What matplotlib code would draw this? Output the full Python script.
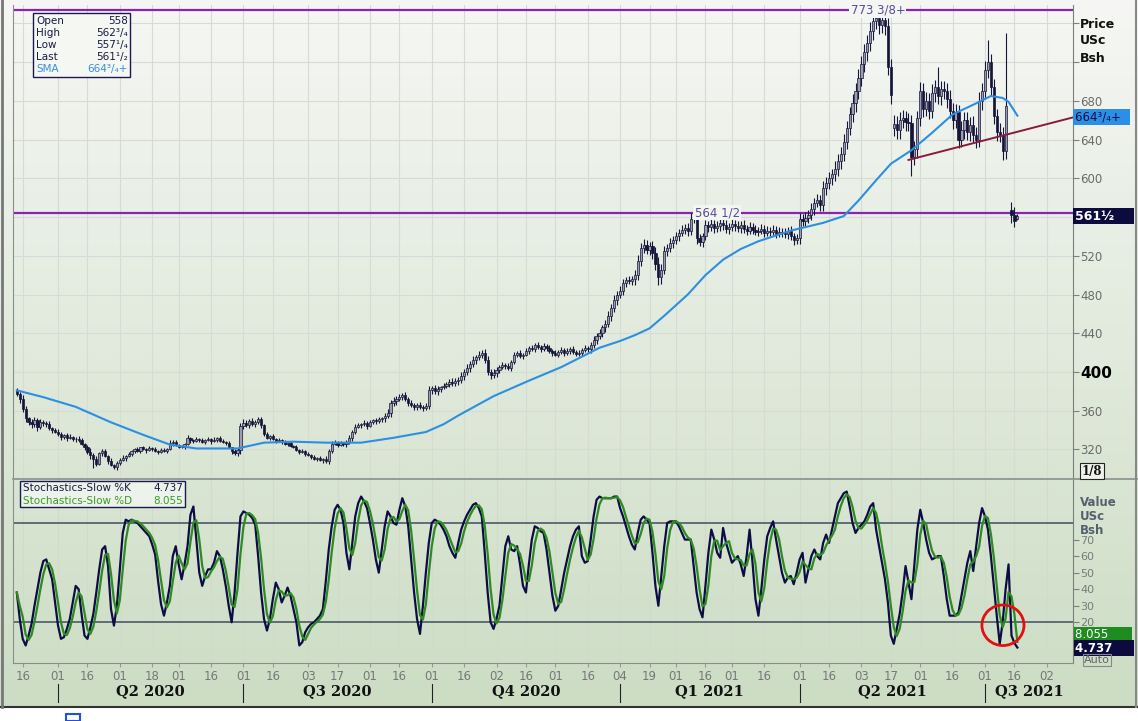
import numpy as np
import pandas as pd
import matplotlib
matplotlib.use('Agg')
import matplotlib.pyplot as plt
import matplotlib.transforms as mtransforms
from matplotlib.patches import Ellipse, Rectangle
from matplotlib.lines import Line2D

# trading calendar (CBOT holidays removed)
holidays = ['2020-04-10', '2020-05-25', '2020-07-03', '2020-09-07', '2020-11-26',
            '2020-12-25', '2021-01-01', '2021-01-18', '2021-02-15', '2021-04-02',
            '2021-05-31', '2021-07-05']
days = pd.bdate_range('2020-03-12', '2021-08-31')
days = days[~days.isin(pd.to_datetime(holidays))]

# daily closes, US cents / bushel (nearby corn)
closes = [
    377, 372, 362, 352, 348, 346, 350, 343, 348, 347,
    346, 342, 340, 338, 336, 333, 335, 332, 333, 331,
    331, 330, 326, 322, 317, 314, 310, 305, 316, 318,
    313, 308, 304, 302, 306, 309, 311, 313, 315, 318,
    320, 318, 322, 320, 319, 321, 320, 318, 317, 319,
    318, 320, 327, 328, 325, 323, 322, 326, 332, 330,
    329, 331, 330, 328, 330, 331, 329, 330, 332, 329,
    328, 327, 322, 318, 316, 319, 344, 347, 345, 349,
    346, 348, 351, 345, 336, 332, 334, 331, 329, 330,
    328, 326, 327, 324, 323, 319, 317, 318, 315, 314,
    312, 310, 311, 309, 310, 308, 318, 326, 328, 325,
    327, 326, 328, 332, 338, 343, 345, 346, 347, 344,
    348, 350, 349, 351, 352, 355, 358, 368, 370, 372,
    374, 376, 372, 368, 366, 364, 366, 364, 363, 365,
    381, 383, 380, 382, 384, 386, 388, 390, 389, 391,
    392, 396, 400, 404, 408, 412, 415, 418, 420, 412,
    400, 397, 399, 402, 405, 407, 406, 404, 410, 418,
    420, 416, 418, 422, 425, 424, 428, 426, 424, 427,
    425, 422, 420, 418, 421, 423, 420, 422, 424, 421,
    419, 420, 423, 425, 424, 428, 433, 437, 440, 446,
    450, 458, 466, 474, 480, 484, 492, 495, 494, 496,
    500, 515, 528, 531, 526, 530, 523, 512, 498, 505,
    525, 528, 533, 536, 540, 544, 547, 549, 546, 558,
    561, 538, 534, 540, 552, 550, 553, 549, 551, 554,
    552, 548, 550, 553, 551, 549, 552, 548, 546, 550,
    547, 545, 546, 548, 544, 546, 545, 547, 543, 545,
    544, 542, 546, 540, 536, 538, 558, 556, 559, 562,
    568, 575, 578, 572, 590, 595, 600, 604, 610, 618,
    625, 638, 652, 666, 678, 690, 704, 718, 730, 740,
    752, 762, 766, 758, 764, 757, 715, 686, 656, 650,
    660, 662, 658, 657, 622, 630, 662, 690, 672, 680,
    670, 688, 694, 685, 692, 690, 682, 670, 660, 668,
    640, 650, 660, 648, 655, 645, 640, 680, 690, 712,
    720, 694, 664, 648, 645, 628, 675, np.nan, 562, 556,
    561.5,
]
# wick lengths above / below the body, cents, one digit per day
wick_up = ("3243234232 2312321231 2321342312 2131223121 1212131212 2132212131 "
           "1212121312 2121223432 3232121212 1212121212 1212132321 2123232132 "
           "2123234343 3232322323 4343232343 3434343434 4343232323 2323232323 "
           "2323232323 2323234343 4545454343 5656545676 5454545456 6454545454 "
           "4545454545 4545454545 4545456565 6565767687 7878989898 9898989898 "
           "8989898989 8989898989 8989898989 9898989898 3")
wick_dn = ("2434343423 3231232312 3213243213 1312321312 2121312121 1213121213 "
           "2121213121 1213234323 2323212121 2121212121 2121323212 1232321323 "
           "1232343434 2323233232 3434323434 4343434343 3434323232 3232323232 "
           "3232323232 3232343434 5454545434 6565456767 4545454565 4645454545 "
           "5454545454 5454545454 5454546565 5656676778 8787898989 8989898989 "
           "9898989898 9898989898 9898989898 8989898989 2")
# opens that do not follow the previous close (first bar, contract rolls)
open_gaps = {0: 380, 298: 652, 338: 567, 340: 558}
wick_highs = {82: 353, 230: 572, 292: 773.4, 313: 715, 330: 743, 336: 750, 340: 562.75}
wick_lows = {26: 301, 218: 490, 304: 602, 335: 619, 339: 550, 340: 557.25}

# simple moving average
sma_idx = [0, 9, 20, 32, 43, 52, 61, 75, 84, 94, 105, 117, 128, 139, 145, 150, 156,
           162, 168, 174, 185, 198, 205, 210, 215, 220, 228, 234, 240, 246, 252,
           263, 274, 281, 286, 292, 297, 304, 311, 318, 325, 331, 335, 337, 340]
sma_vals = [381, 374, 364, 348, 335, 325, 321, 321, 327, 328, 327, 327, 332, 338, 346,
            355, 365, 375, 383, 391, 405, 425, 432, 438, 445, 458, 480, 500, 516,
            527, 535, 546, 554, 561, 577, 598, 615, 629, 647, 666, 676, 685, 683,
            679, 664.75]

levels = [773.375, 564.5]
level_labels = ['773 3/8+', '564 1/2']
level_label_idx = [292.6, 238]
trend_idx = [303, 359]
trend_vals = [619, 663]

# Stochastics-Slow %K
k_vals = [
    38, 22, 10, 6, 12, 19, 30, 40, 50, 57,
    58, 52, 46, 32, 18, 10, 11, 16, 22, 32,
    42, 40, 25, 12, 10, 17, 25, 38, 52, 64,
    66, 54, 28, 18, 30, 52, 74, 82, 81, 82,
    81, 80, 78, 76, 74, 72, 67, 61, 45, 31,
    24, 32, 42, 60, 66, 55, 46, 55, 66, 85,
    90, 70, 50, 42, 48, 52, 52, 56, 63, 60,
    52, 42, 30, 20, 38, 62, 84, 87, 86, 85,
    83, 79, 60, 38, 22, 15, 22, 34, 44, 40,
    32, 36, 41, 36, 28, 20, 6, 8, 14, 17,
    19, 20, 22, 24, 28, 45, 64, 78, 88, 91,
    88, 80, 62, 52, 68, 84, 92, 96, 93, 89,
    80, 70, 58, 50, 64, 78, 87, 84, 80, 79,
    88, 95, 90, 78, 58, 38, 22, 13, 30, 50,
    68, 80, 82, 81, 79, 76, 72, 66, 62, 59,
    68, 76, 81, 85, 88, 91, 92, 89, 84, 62,
    38, 20, 16, 22, 30, 48, 66, 72, 64, 63,
    66, 55, 42, 38, 55, 70, 78, 77, 75, 74,
    64, 50, 36, 27, 30, 40, 50, 58, 66, 72,
    76, 78, 60, 56, 57, 70, 84, 94, 96, 95,
    95, 95, 95, 96, 96, 89, 84, 78, 72, 67,
    64, 74, 82, 84, 82, 80, 62, 42, 30, 48,
    66, 80, 81, 81, 81, 78, 74, 70, 70, 70,
    54, 38, 28, 23, 42, 62, 76, 70, 62, 59,
    77, 68, 62, 56, 58, 60, 55, 48, 60, 76,
    56, 34, 24, 40, 58, 72, 77, 81, 70, 60,
    50, 44, 47, 48, 43, 50, 58, 62, 44, 52,
    60, 64, 60, 58, 68, 73, 68, 76, 84, 92,
    95, 98, 99, 90, 80, 74, 77, 79, 81, 85,
    90, 92, 76, 66, 56, 46, 32, 12, 7, 16,
    25, 38, 54, 44, 34, 55, 76, 88, 80, 70,
    62, 58, 59, 60, 60, 48, 34, 24, 24, 24,
    26, 36, 46, 56, 63, 51, 66, 80, 89, 84,
    76, 60, 42, 24, 7, 20, 40, 55, 12, 7.4,
    4.737,
]

W, H = 1138, 721
fx = lambda px: px / W
fy = lambda py: 1 - py / H

fig = plt.figure(figsize=(W / 100, H / 100), dpi=100)
fig.patch.set_facecolor('white')

# background gradient
bg = fig.add_axes([0, fy(707), 1, 707 / H], zorder=-10)
top = np.array([246, 247, 244]) / 255
bot = np.array([204, 221, 196]) / 255
t = np.linspace(0, 1, 256)[:, None]
grad = top * (1 - t)[:, :, None] + bot * t[:, :, None]
bg.imshow(grad.repeat(2, axis=1), aspect='auto', extent=[0, 1, 0, 1])
bg.axis('off')

L, R = 13, 1073
XMAX = 358.9
ax1 = fig.add_axes([fx(L), fy(478), fx(R) - fx(L), 473 / H])
ax2 = fig.add_axes([fx(L), fy(663), fx(R) - fx(L), 183 / H])
for ax in (ax1, ax2):
    ax.set_facecolor('none')
    ax.set_xlim(-1.3, XMAX)
    for s in ('top', 'bottom'):
        ax.spines[s].set_visible(False)
    ax.spines['left'].set_color('#8a8f8a')
    ax.spines['right'].set_color('#7a7f7a')

# x ticks: first trading day on/after 1st and 16th
tick_pos, tick_lab, q_pos = [], [], []
for m in pd.period_range('2020-03', '2021-08', freq='M'):
    for d in (1, 16):
        target = pd.Timestamp(m.year, m.month, d)
        hit = np.where(days >= target)[0]
        if len(hit) and hit[0] < XMAX - 3:
            tick_pos.append(hit[0])
            tick_lab.append('%02d' % days[hit[0]].day)
            if d == 1 and m.month in (1, 4, 7, 10):
                q_pos.append(hit[0])
tick_pos, tick_lab = tick_pos[1:], tick_lab[1:]

# ---- price panel ----
x = np.arange(len(closes))
c = np.array(closes, dtype=float)
o = np.r_[np.nan, c[:-1]]
for i, v in open_gaps.items():
    o[i] = v
wu = np.array([int(ch) for ch in wick_up.replace(' ', '')], dtype=float)
wd = np.array([int(ch) for ch in wick_dn.replace(' ', '')], dtype=float)
hi = np.fmax(o, c) + wu
lo = np.fmin(o, c) - wd
for i, v in wick_highs.items():
    hi[i] = v
for i, v in wick_lows.items():
    lo[i] = v
ok = ~np.isnan(c) & ~np.isnan(o)
up = ok & (c >= o)
dn = ok & (c < o)
ax1.vlines(x[ok], lo[ok], hi[ok], color='#15153a', lw=0.8, zorder=3)
ax1.bar(x[up], (c - o)[up], bottom=o[up], width=0.75, color='#9c9cae',
        edgecolor='#15153a', lw=0.5, zorder=4)
ax1.bar(x[dn], (c - o)[dn], bottom=o[dn], width=0.75, color='#15153a',
        edgecolor='#15153a', lw=0.5, zorder=4)

ax1.plot(sma_idx, sma_vals, color='#2b8fe3', lw=1.5, zorder=5)
for lv in levels:
    ax1.axhline(lv, color='#8a22b8', lw=1.6, zorder=2)
for lab, xi, lv in zip(level_labels, level_label_idx, levels):
    ax1.text(xi, lv, lab, ha='center', va='center', fontsize=8.5, color='#5a4a9e',
             bbox=dict(boxstyle='square,pad=0.1', fc='#f4f6f1', ec='none'), zorder=6)
ax1.plot(trend_idx, trend_vals, color='#8b1a3e', lw=1.4, zorder=5, clip_on=True)

ax1.set_ylim(290.5, 779)
yt = list(range(320, 761, 40))
ax1.yaxis.tick_right()
ax1.set_yticks(yt, labels=['' if v in (560, 720, 760) else str(v) for v in yt])
ax1.tick_params(axis='y', direction='out', length=4, color='#808080',
                labelcolor='#6a6a6a', labelsize=8.5, pad=1)
for lbl, v in zip(ax1.get_yticklabels(), yt):
    if v == 400:
        lbl.set_fontsize(11)
        lbl.set_fontweight('bold')
        lbl.set_color('black')
ax1.set_xticks(tick_pos)
ax1.tick_params(axis='x', length=0, labelbottom=False)
ax1.grid(True, color='#d6dbd3', lw=0.8, zorder=0)

# ---- stochastics panel ----
k = pd.Series(k_vals)
d = k.rolling(3, min_periods=1).mean()
kx = np.arange(len(k))
ax2.axhline(80, color='#4c5868', lw=1.2, zorder=2)
ax2.axhline(20, color='#4c5868', lw=1.2, zorder=2)
ax2.plot(kx, k, color='#0d0d45', lw=1.6, zorder=3)
ax2.plot(kx, d, color='#2e8b22', lw=1.6, zorder=4)
ax2.add_patch(Ellipse((335.1, 18.2), 14.3, 24.5, fill=False, ec='#e01010', lw=2, zorder=6))
ax2.set_ylim(-4.6, 106)
ax2.yaxis.tick_right()
st = [20, 30, 40, 50, 60, 70]
ax2.set_yticks(st, labels=[str(v) for v in st])
ax2.tick_params(axis='y', direction='out', length=4, color='#808080',
                labelcolor='#7a7a7a', labelsize=8, pad=1)
ax2.set_xticks(tick_pos, labels=tick_lab)
ax2.tick_params(axis='x', direction='out', length=3, color='#999999',
                labelcolor='#777777', labelsize=8.5, pad=2)
ax2.grid(True, axis='x', color='#d2dacd', lw=0.8, zorder=0)
ax2.spines['bottom'].set_visible(True)
ax2.spines['bottom'].set_color('#8a8f8a')

# quarters
qt = mtransforms.blended_transform_factory(ax2.transData, fig.transFigure)
q_names = ['Q2 2020', 'Q3 2020', 'Q4 2020', 'Q1 2021', 'Q2 2021', 'Q3 2021']
edges = q_pos + [XMAX]
for i, qp in enumerate(q_pos):
    ax2.add_line(Line2D([qp, qp], [fy(684), fy(702)], transform=qt, color='#222222',
                        lw=0.8, clip_on=False))
    ax2.text((edges[i] + edges[i + 1]) / 2, fy(691), q_names[i], transform=qt,
             ha='center', va='center', fontsize=10.5, fontweight='bold',
             family='DejaVu Serif', color='#111111')

# frame lines
fig.add_artist(Line2D([fx(L), 1], [fy(478.5), fy(478.5)], color='#8a8f8a', lw=1.2))
fig.add_artist(Line2D([0, 1], [fy(707), fy(707)], color='#333333', lw=1.5))
fig.add_artist(Line2D([fx(1.5), fx(1.5)], [fy(707), 1], color='#777777', lw=2))
fig.add_artist(Line2D([fx(1136), fx(1136)], [fy(707), 1], color='#888888', lw=1.5))
fig.add_artist(Rectangle((fx(66), 0), fx(14), 7 / H, fill=False, ec='#2050e0', lw=1.5))

# right-hand captions
for i, s in enumerate(['Price', 'USc', 'Bsh']):
    fig.text(fx(1080), fy(24 + 17 * i), s, fontsize=9, fontweight='bold',
             va='center', color='#111111')
for i, s in enumerate(['Value', 'USc', 'Bsh']):
    fig.text(fx(1080), fy(503 + 14 * i), s, fontsize=8.5, fontweight='bold',
             va='center', color='#55606e')

fig.text(fx(1075), fy(117), '664³/₄+  ', fontsize=8.5, va='center', color='#101040',
         bbox=dict(boxstyle='square,pad=0.15', fc='#2b8fe8', ec='none'))
fig.text(fx(1075), fy(216), '561½    ', fontsize=9, fontweight='bold', va='center',
         color='white', bbox=dict(boxstyle='square,pad=0.15', fc='#0b0b3d', ec='none'))
fig.text(fx(1082), fy(471), '1/8', fontsize=8.5, fontweight='bold', va='center',
         family='DejaVu Serif', color='#111111',
         bbox=dict(boxstyle='square,pad=0.15', fc='#eef1ec', ec='#222222', lw=0.8))
fig.text(fx(1075), fy(635), '8.055      ', fontsize=8.5, va='center', color='white',
         bbox=dict(boxstyle='square,pad=0.12', fc='#1f8c1f', ec='none'))
fig.text(fx(1075), fy(648), '4.737     ', fontsize=8.5, fontweight='bold', va='center',
         color='white', bbox=dict(boxstyle='square,pad=0.12', fc='#0b0b3d', ec='none'))
fig.text(fx(1084), fy(660), 'Auto', fontsize=8, va='center', color='#666666',
         bbox=dict(boxstyle='square,pad=0.1', fc='none', ec='#888888', lw=0.8))

# price legend box
fig.add_artist(Rectangle((fx(33), fy(77)), fx(97), 64 / H, fc='#f5f7f3', ec='#1a1a50', lw=1))
rows = [('Open', '558', '#1a1a40'), ('High', '562³/₄', '#1a1a40'),
        ('Low', '557¹/₄', '#1a1a40'), ('Last', '561¹/₂', '#1a1a40'),
        ('SMA', '664³/₄+', '#3a8ee0')]
for i, (a, b, col) in enumerate(rows):
    fig.text(fx(36), fy(21 + 12 * i), a, fontsize=7.5, va='center', color=col)
    fig.text(fx(128), fy(21 + 12 * i), b, fontsize=7.5, va='center', ha='right', color=col)

# stochastics legend box
fig.add_artist(Rectangle((fx(20), fy(507)), fx(165), 26 / H, fc='#edf2ea', ec='#1a1a50', lw=1))
for i, (a, b, col) in enumerate([('Stochastics-Slow %K', '4.737', '#1a1a40'),
                                 ('Stochastics-Slow %D', '8.055', '#3a9a2a')]):
    fig.text(fx(23), fy(488 + 12.5 * i), a, fontsize=7.5, va='center', color=col)
    fig.text(fx(183), fy(488 + 12.5 * i), b, fontsize=7.5, va='center', ha='right', color=col)

fig.savefig('out.png', dpi=100)
